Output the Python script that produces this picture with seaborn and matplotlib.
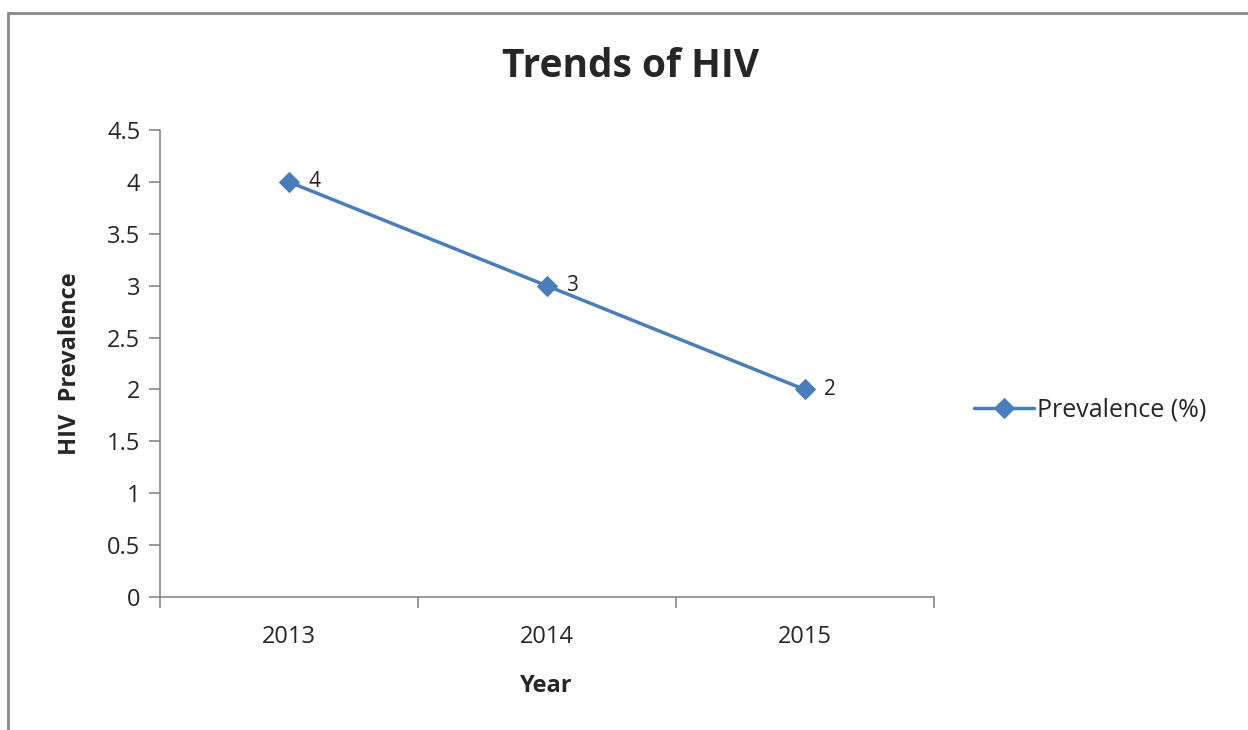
import matplotlib
matplotlib.use("Agg")
import matplotlib.pyplot as plt
import matplotlib.patches as mpatches
import pandas as pd
import seaborn as sns

# data
years = ["2013", "2014", "2015"]
prevalence = [4, 3, 2]
y_ticks = [0, 0.5, 1, 1.5, 2, 2.5, 3, 3.5, 4, 4.5]

LINE_COLOR = "#4a7ebb"

sns.set_theme(style="white")
plt.rcParams["font.family"] = ["Open Sans", "DejaVu Sans"]

df = pd.DataFrame({"Year": years, "Prevalence (%)": prevalence})

fig = plt.figure(figsize=(12.48, 7.3), dpi=100)
ax = fig.add_axes([0.128, 0.182, 0.62, 0.64])

sns.lineplot(data=df, x="Year", y="Prevalence (%)", ax=ax, color=LINE_COLOR,
             linewidth=2.5, marker="D", markersize=10, markeredgecolor=LINE_COLOR,
             label="Prevalence (%)")

# data labels
for i, v in enumerate(prevalence):
    ax.annotate(f"{v:g}", (i, v), xytext=(14, 0), textcoords="offset points",
                va="center", ha="left", fontsize=15, color="#222222")

ax.set_xlim(-0.5, 2.5)
ax.set_ylim(0, 4.5)
ax.set_yticks(y_ticks)
ax.set_yticklabels([f"{t:g}" for t in y_ticks], fontsize=17)
ax.set_xticks(range(len(years)))
ax.set_xticklabels(years, fontsize=17)

# category boundary ticks like Excel
ax.set_xticks([-0.5, 0.5, 1.5, 2.5], minor=True)
ax.tick_params(axis="x", which="major", bottom=True, length=0, pad=20)
ax.tick_params(axis="x", which="minor", bottom=True, length=8, width=1.2,
               color="#888888", direction="out")
ax.tick_params(axis="y", which="major", left=True, length=8, width=1.2,
               color="#888888", direction="out", pad=6)

for side in ["top", "right"]:
    ax.spines[side].set_visible(False)
for side in ["left", "bottom"]:
    ax.spines[side].set_color("#888888")
    ax.spines[side].set_linewidth(1.2)

ax.set_xlabel("Year", fontsize=17, fontweight="bold", labelpad=18)
ax.set_ylabel("HIV  Prevalence", fontsize=17, fontweight="bold", labelpad=18)
fig.suptitle("Trends of HIV", fontsize=28, fontweight="bold", x=0.505, y=0.935)

ax.legend(loc="center left", bbox_to_anchor=(1.04, 0.4), frameon=False,
          fontsize=18, handlelength=2.4, handletextpad=0.1, borderaxespad=0)

# outer chart frame
frame = mpatches.Rectangle((8 / 1248, -0.01), 1.02, (730 - 13) / 730 + 0.01,
                           transform=fig.transFigure, fill=False,
                           edgecolor="#888888", linewidth=2, clip_on=False)
fig.patches.append(frame)

fig.savefig("out.png", dpi=100)
